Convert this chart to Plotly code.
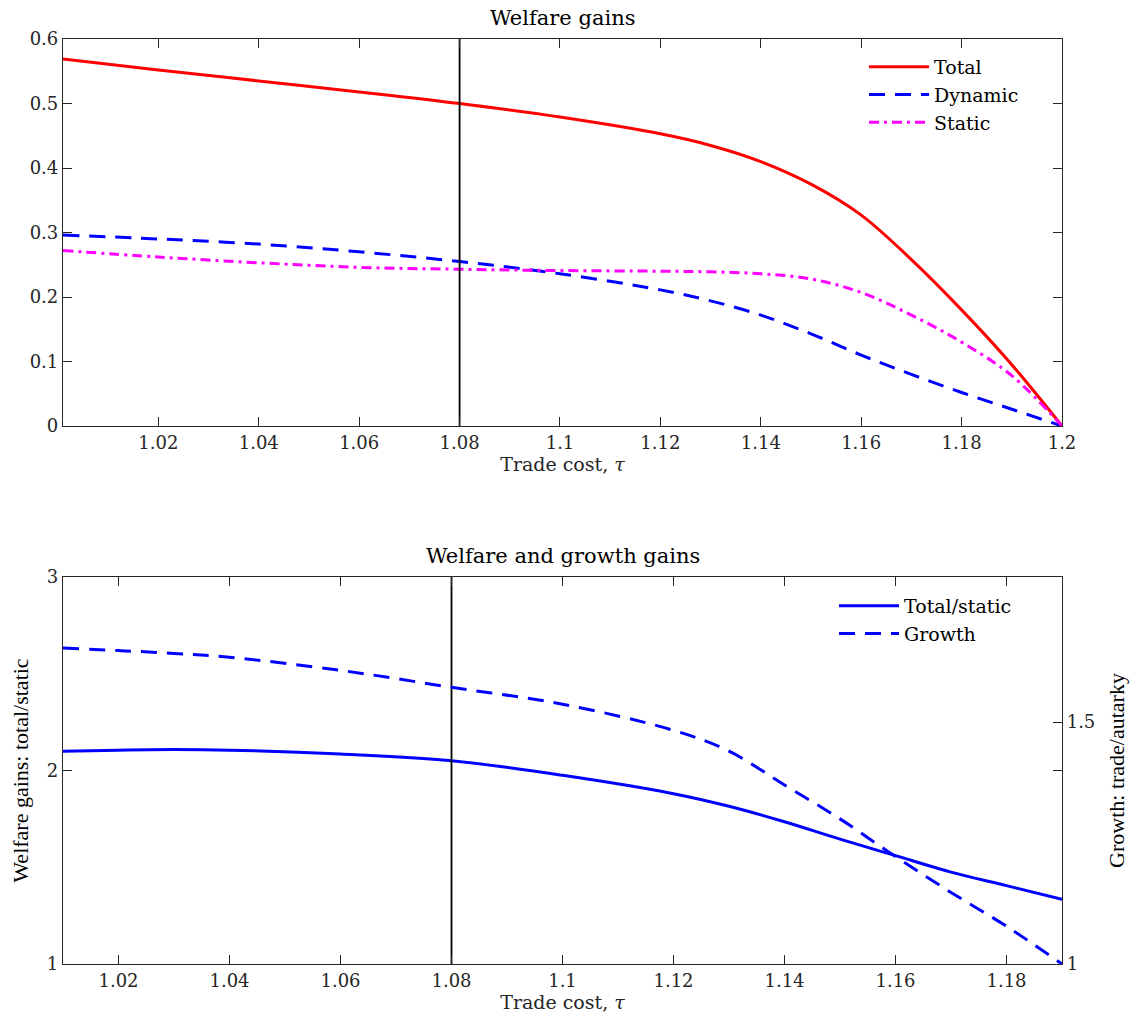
import plotly.graph_objects as go

# ---------------- data ----------------
tau_top = [1.001, 1.02, 1.04, 1.06, 1.08, 1.10, 1.12, 1.13, 1.14, 1.15, 1.16, 1.17, 1.18, 1.19, 1.20]
total = [0.569, 0.552, 0.535, 0.518, 0.500, 0.479, 0.453, 0.435, 0.410, 0.375, 0.327, 0.258, 0.180, 0.095, 0.0]
dynamic = [0.296, 0.290, 0.282, 0.270, 0.255, 0.236, 0.211, 0.194, 0.172, 0.143, 0.110, 0.080, 0.052, 0.026, 0.0]
static = [0.272, 0.262, 0.253, 0.246, 0.243, 0.241, 0.240, 0.239, 0.236, 0.228, 0.207, 0.172, 0.130, 0.078, 0.0]

tau_bot = [1.01, 1.02, 1.03, 1.04, 1.06, 1.08, 1.10, 1.12, 1.13, 1.14, 1.15, 1.16, 1.17, 1.18, 1.19]
total_static = [2.10, 2.105, 2.108, 2.105, 2.085, 2.05, 1.975, 1.88, 1.815, 1.735, 1.645, 1.56, 1.475, 1.405, 1.335]
growth = [1.653, 1.648, 1.642, 1.634, 1.607, 1.572, 1.537, 1.483, 1.440, 1.370, 1.300, 1.222, 1.148, 1.078, 1.0]

vline_tau = 1.08

top_xticks = [1.02, 1.04, 1.06, 1.08, 1.10, 1.12, 1.14, 1.16, 1.18, 1.20]
top_xlabels = ["1.02", "1.04", "1.06", "1.08", "1.1", "1.12", "1.14", "1.16", "1.18", "1.2"]
top_yticks = [0, 0.1, 0.2, 0.3, 0.4, 0.5, 0.6]
top_ylabels = ["0", "0.1", "0.2", "0.3", "0.4", "0.5", "0.6"]
bot_xticks = [1.02, 1.04, 1.06, 1.08, 1.10, 1.12, 1.14, 1.16, 1.18]
bot_xlabels = ["1.02", "1.04", "1.06", "1.08", "1.1", "1.12", "1.14", "1.16", "1.18"]

FONT = "DejaVu Serif"
VFONT = "Liberation Serif"
TXT = "#262626"
W, H = 1138, 1023
ml, mr, mt, mb = 63, 76, 39, 59
ph = H - mt - mb


def py(px):
    return 1 - (px - mt) / ph


fig = go.Figure()

fig.add_trace(go.Scatter(x=tau_top, y=total, mode="lines", name="Total", line=dict(color="#ff0000", width=3, shape="spline"), xaxis="x", yaxis="y", legend="legend"))
fig.add_trace(go.Scatter(x=tau_top, y=dynamic, mode="lines", name="Dynamic", line=dict(color="#0000ff", width=3, dash="16px,10px", shape="spline"), xaxis="x", yaxis="y", legend="legend"))
fig.add_trace(go.Scatter(x=tau_top, y=static, mode="lines", name="Static", line=dict(color="#ff00ff", width=3, dash="10px,5px,3px,5px", shape="spline"), xaxis="x", yaxis="y", legend="legend"))

fig.add_trace(go.Scatter(x=tau_bot, y=total_static, mode="lines", name="Total/static", line=dict(color="#0000ff", width=3, shape="spline"), xaxis="x2", yaxis="y2", legend="legend2"))
fig.add_trace(go.Scatter(x=tau_bot, y=growth, mode="lines", name="Growth", line=dict(color="#0000ff", width=3, dash="16px,10px", shape="spline"), xaxis="x2", yaxis="y3", legend="legend2"))

# vertical lines at tau = 1.08
fig.add_trace(go.Scatter(x=[vline_tau, vline_tau], y=[0, 0.6], mode="lines", line=dict(color="black", width=1.8), showlegend=False, xaxis="x", yaxis="y", hoverinfo="skip"))
fig.add_trace(go.Scatter(x=[vline_tau, vline_tau], y=[1, 3], mode="lines", line=dict(color="black", width=1.8), showlegend=False, xaxis="x2", yaxis="y2", hoverinfo="skip"))

axis_common = dict(showgrid=False, zeroline=False, showline=True, linecolor=TXT, linewidth=1.2,
                   ticks="inside", ticklen=9, tickcolor=TXT, tickwidth=1.2,
                   tickfont=dict(family=FONT, size=18, color=TXT))

top_dom = [py(426), py(39)]
bot_dom = [py(964), py(577)]

xtitle_font = dict(family=FONT, size=19, color=TXT)
vtitle_font = dict(family=VFONT, size=22, color="black")
leg_font = dict(family=FONT, size=19, color="black")

fig.update_layout(
    width=W, height=H,
    margin=dict(l=ml, r=mr, t=mt, b=mb),
    paper_bgcolor="white", plot_bgcolor="white",
    font=dict(family=FONT, size=18, color=TXT),
    xaxis=dict(domain=[0, 1], range=[1.001, 1.2], tickvals=top_xticks, ticktext=top_xlabels, mirror="ticks", anchor="y",
               title=dict(text="Trade cost, <i>τ</i>", font=xtitle_font, standoff=4), **axis_common),
    yaxis=dict(domain=top_dom, range=[0, 0.6], tickvals=top_yticks, ticktext=top_ylabels, mirror="ticks", anchor="x", **axis_common),
    xaxis2=dict(domain=[0, 1], range=[1.01, 1.19], tickvals=bot_xticks, ticktext=bot_xlabels, mirror="ticks", anchor="y2",
                title=dict(text="Trade cost, <i>τ</i>", font=xtitle_font, standoff=4), **axis_common),
    yaxis2=dict(domain=bot_dom, range=[1, 3], tickvals=[1, 2, 3], ticktext=["1", "2", "3"], mirror="ticks", anchor="x2",
                title=dict(text="Welfare gains: total/static", font=vtitle_font, standoff=12), **axis_common),
    yaxis3=dict(overlaying="y2", side="right", range=[1, 1.8], tickvals=[1, 1.5], ticktext=["1", "1.5"], anchor="x2",
                title=dict(text="Growth: trade/autarky", font=vtitle_font, standoff=14), **axis_common),
    legend=dict(x=(864 - ml) / (W - ml - mr), y=py(48), xanchor="left", yanchor="top", bgcolor="rgba(255,255,255,0)",
                font=leg_font, tracegroupgap=0, itemwidth=60),
    legend2=dict(x=(834 - ml) / (W - ml - mr), y=py(587), xanchor="left", yanchor="top", bgcolor="rgba(255,255,255,0)",
                 font=leg_font, tracegroupgap=0, itemwidth=60),
    annotations=[
        dict(text="Welfare gains", x=0.5, y=py(18), xref="paper", yref="paper", showarrow=False,
             font=dict(family=FONT, size=21, color="black"), xanchor="center", yanchor="middle"),
        dict(text="Welfare and growth gains", x=0.5, y=py(556), xref="paper", yref="paper", showarrow=False,
             font=dict(family=FONT, size=21, color="black"), xanchor="center", yanchor="middle"),
    ],
)

fig.write_html("out.html")
